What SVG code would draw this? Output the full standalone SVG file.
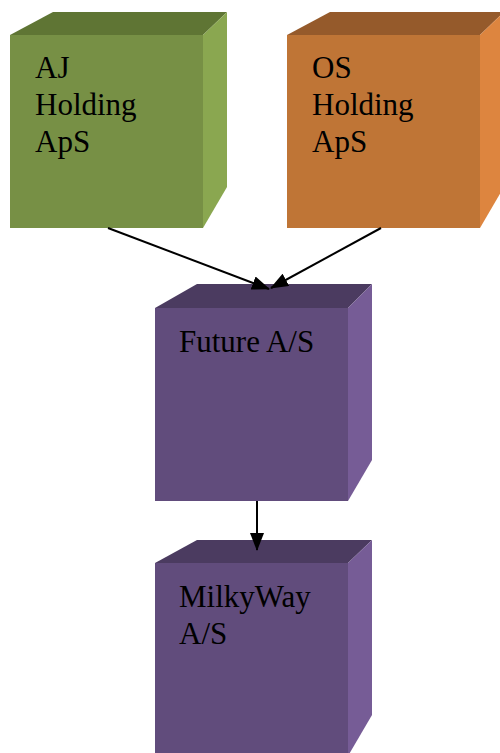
<svg xmlns="http://www.w3.org/2000/svg" width="500" height="753" viewBox="0 0 500 753">
<defs>
<style>
.t{font-family:"Liberation Serif","Times New Roman",serif;font-size:31px;fill:#000}
.gf{fill:#779045}.gt{fill:#5F7534}.gr{fill:#8AA750}
.of{fill:#BF7536}.ot{fill:#955A2B}.or{fill:#DD853F}
.pf{fill:#614C7C}.pt{fill:#4B3B60}.pr{fill:#765C96}
.ln{stroke:#000;stroke-width:2;fill:none}
</style>
<marker id="ah" markerWidth="18" markerHeight="14" refX="17" refY="7" orient="auto" markerUnits="userSpaceOnUse">
<path d="M0,0 L18,7 L0,14 Z" fill="#000"/>
</marker>
</defs>
<g id="aj">
<polygon class="gt" points="10,35 53,12 227,12 203,35"/>
<polygon class="gr" points="203,35 227,12 227,187 203,228"/>
<rect class="gf" x="10" y="35" width="193" height="193"/>
<text class="t" x="35" y="78">AJ</text>
<text class="t" x="35" y="115">Holding</text>
<text class="t" x="35" y="152">ApS</text>
</g>
<g id="os">
<polygon class="ot" points="287,35 330,12 504,12 480,35"/>
<polygon class="or" points="480,35 504,12 504,187 480,228"/>
<rect class="of" x="287" y="35" width="193" height="193"/>
<text class="t" x="312" y="78">OS</text>
<text class="t" x="312" y="115">Holding</text>
<text class="t" x="312" y="152">ApS</text>
</g>
<g id="future">
<polygon class="pt" points="155,308 197,284 372,284 348,308"/>
<polygon class="pr" points="348,308 372,284 372,460 348,501"/>
<rect class="pf" x="155" y="308" width="193" height="193"/>
<text class="t" x="179" y="352">Future A/S</text>
</g>
<g id="milkyway">
<polygon class="pt" points="155,563 197,540 372,540 348,563"/>
<polygon class="pr" points="348,563 372,540 372,715 348,756"/>
<rect class="pf" x="155" y="563" width="193" height="193"/>
<text class="t" x="179" y="607">MilkyWay</text>
<text class="t" x="179" y="644">A/S</text>
</g>
<g id="connectors">
<line class="ln" x1="108" y1="228" x2="269" y2="289" marker-end="url(#ah)"/>
<line class="ln" x1="381" y1="228" x2="271" y2="288" marker-end="url(#ah)"/>
<line class="ln" x1="257" y1="501" x2="257" y2="550" marker-end="url(#ah)"/>
</g>
</svg>
